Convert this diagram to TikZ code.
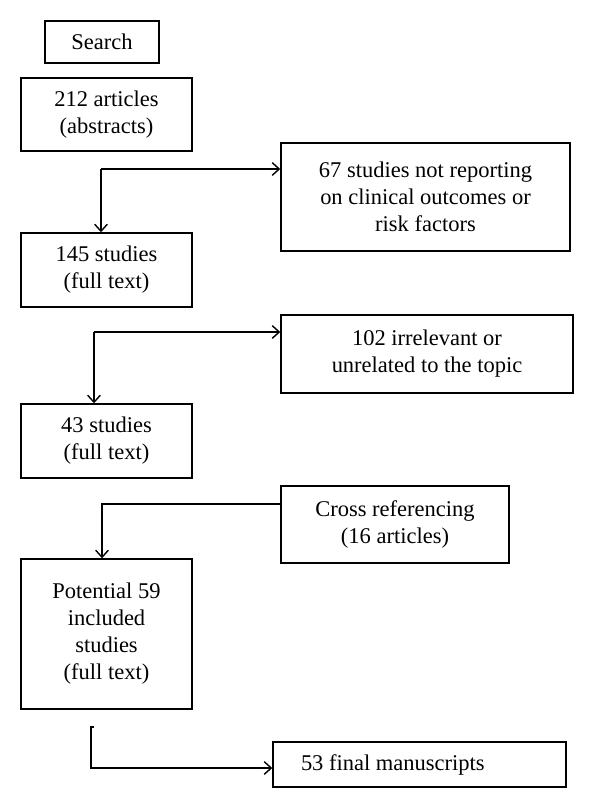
\documentclass[tikz,border=0pt]{standalone}
\usepackage{fontspec}
\setmainfont{Liberation Serif}
\usetikzlibrary{arrows.meta}

\tikzset{
  box/.style={draw, line width=1pt, align=center, inner sep=0pt,
    font=\fontsize{16}{19.2}\selectfont},
  flow/.style={line width=1pt, -{Straight Barb[length=5pt,width=9pt]}}
}

\begin{document}
\begin{tikzpicture}
            \useasboundingbox (0,0) rectangle (15,-20.2);
            %diagramma della ricerca: colonna principale a sinistra, esclusioni a destra
            \node[box, minimum width=2.85cm, minimum height=1.05cm] (search) at (2.55,-1.05) {Search};
            \node[box, minimum width=4.275cm, minimum height=1.825cm] (art212) at (2.6625,-2.8625) {212 articles\\(abstracts)};
            \node[box, minimum width=4.275cm, minimum height=1.85cm] (st145) at (2.6625,-6.75) {145 studies\\(full text)};
            \node[box, minimum width=4.275cm, minimum height=1.85cm] (st43) at (2.6625,-11.025) {43 studies\\(full text)};
            \node[box, minimum width=4.275cm, minimum height=3.75cm] (pot59) at (2.6625,-15.85) {Potential 59\\included\\studies\\(full text)};

            \node[box, minimum width=7.225cm, minimum height=2.7cm] (ex67) at (10.6375,-4.925) {67 studies not reporting\\on clinical outcomes or\\risk factors};
            \node[box, minimum width=7.3cm, minimum height=1.95cm] (ex102) at (10.675,-8.85) {102 irrelevant or\\unrelated to the topic};
            \node[box, minimum width=5.7cm, minimum height=1.925cm] (cross) at (9.875,-13.1125) {Cross referencing\\(16 articles)};
            \node[box, align=flush left, inner xsep=0.7cm, text width=5.925cm, minimum height=1.125cm] (final) at (10.4875,-19.1125) {53 final manuscripts};

            \coordinate (s1) at (2.525,-4.225);
            \coordinate (s2) at (2.35,-8.3);
            \coordinate (c3) at (2.55,-12.6);
            \coordinate (s4) at (2.275,-18.175);
            \coordinate (c4) at (2.275,-19.2);

            \draw[flow] (s1) -- (s1 -| ex67.west);
            \draw[flow] (s1) -- (s1 |- st145.north);
            \draw[flow] (s2) -- (s2 -| ex102.west);
            \draw[flow] (s2) -- (s2 |- st43.north);
            \draw[flow] (cross.west |- c3) -- (c3) -- (c3 |- pot59.north);
            \draw[flow] ([xshift=2pt]s4) -- (s4) -- (c4) -- (c4 -| final.west);

        \end{tikzpicture}
\end{document}
